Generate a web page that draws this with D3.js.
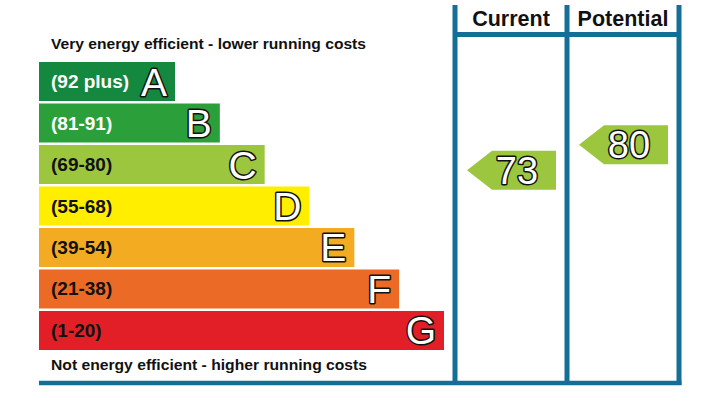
<!DOCTYPE html>
<html>
<head>
<meta charset="utf-8">
<script src="https://cdn.jsdelivr.net/npm/d3@7"></script>
<style>
  html, body { margin: 0; padding: 0; background: #fff; }
  svg { display: block; font-family: "Liberation Sans", Arial, sans-serif; }
</style>
</head>
<body>
<svg id="chart" width="712" height="416"></svg>
<script>
// ---- data ----
const bandLetters = ["A", "B", "C", "D", "E", "F", "G"];
const bandRanges = ["(92 plus)", "(81-91)", "(69-80)", "(55-68)", "(39-54)", "(21-38)", "(1-20)"];
const bandColors = ["#14883e", "#2ba03a", "#9dc63f", "#ffee00", "#f3ac22", "#eb6a26", "#e21f26"];
const bandLabelColors = ["#ffffff", "#ffffff", "#111111", "#111111", "#111111", "#111111", "#111111"];
const columns = ["Current", "Potential"];
const ratings = [73, 80];
const arrowColor = "#9dc63f";
const topText = "Very energy efficient - lower running costs";
const bottomText = "Not energy efficient - higher running costs";
const lineColor = "#146f97";

const svg = d3.select("#chart");

// ---- scales ----
const y = d3.scaleBand().domain(bandLetters).range([62, 350]).paddingInner(0.06);
const barEnd = d3.scaleLinear().domain([0, bandLetters.length - 1]).range([175, 444]);
const col = d3.scaleBand().domain(columns).range([455, 679]);
const ratingY = d3.scaleLinear().domain([100, 0]).range([72, 436]);

const x0 = 39;

// ---- bars ----
const bars = svg.append("g");
bandLetters.forEach((L, i) => {
  const g = bars.append("g");
  g.append("rect")
    .attr("x", x0).attr("y", y(L))
    .attr("width", barEnd(i) - x0).attr("height", y.bandwidth())
    .attr("fill", bandColors[i]);
  g.append("text")
    .attr("x", 51).attr("y", y(L) + y.bandwidth() / 2 + 6.5)
    .attr("font-size", 19).attr("font-weight", "bold")
    .attr("fill", bandLabelColors[i])
    .text(bandRanges[i]);
  g.append("text")
    .attr("x", barEnd(i) - 8).attr("y", y(L) + y.bandwidth() / 2 + 14)
    .attr("text-anchor", "end")
    .attr("font-size", 39)
    .attr("fill", "#fff").attr("stroke", "#111").attr("stroke-width", 3)
    .attr("stroke-linejoin", "round").style("paint-order", "stroke")
    .text(L);
});

// ---- top & bottom text ----
svg.append("text").attr("x", 51).attr("y", 49)
  .attr("font-size", 15).attr("font-weight", "bold").attr("fill", "#111")
  .attr("textLength", 315).attr("lengthAdjust", "spacingAndGlyphs")
  .text(topText);
svg.append("text").attr("x", 51).attr("y", 370)
  .attr("font-size", 15).attr("font-weight", "bold").attr("fill", "#111")
  .attr("textLength", 316).attr("lengthAdjust", "spacingAndGlyphs")
  .text(bottomText);

// ---- frame lines ----
const lines = svg.append("g").attr("stroke", lineColor).attr("fill", "none");
const colEdges = [col(columns[0]), col(columns[1]), col(columns[1]) + col.bandwidth()];
colEdges.forEach(xv => {
  lines.append("line").attr("x1", xv).attr("x2", xv).attr("y1", 5).attr("y2", 385)
    .attr("stroke-width", 5);
});
lines.append("line").attr("x1", colEdges[0]).attr("x2", colEdges[2])
  .attr("y1", 34.5).attr("y2", 34.5).attr("stroke-width", 5);
lines.append("line").attr("x1", x0).attr("x2", colEdges[2] + 2.5)
  .attr("y1", 383).attr("y2", 383).attr("stroke-width", 4.5);

// ---- column headers ----
columns.forEach(c => {
  svg.append("text")
    .attr("x", col(c) + col.bandwidth() / 2).attr("y", 26)
    .attr("text-anchor", "middle")
    .attr("font-size", 21.5).attr("font-weight", "bold").attr("fill", "#111")
    .text(c);
});

// ---- rating arrows ----
const arrowH = 39;
columns.forEach((c, i) => {
  const v = ratings[i];
  const cy = ratingY(v);
  const tip = col(c) + 12;
  const right = col(c) + 101;
  const shoulder = tip + 25;
  const pts = [
    [tip, cy], [shoulder, cy - arrowH / 2], [right, cy - arrowH / 2],
    [right, cy + arrowH / 2], [shoulder, cy + arrowH / 2]
  ];
  svg.append("path").attr("d", d3.line()(pts) + "Z").attr("fill", arrowColor);
  svg.append("text")
    .attr("x", (shoulder + right) / 2 - 7).attr("y", cy + 13.5)
    .attr("text-anchor", "middle")
    .attr("font-size", 38)
    .attr("fill", "#fff").attr("stroke", "#111").attr("stroke-width", 3)
    .attr("stroke-linejoin", "round").style("paint-order", "stroke")
    .text(v);
});
</script>
</body>
</html>
